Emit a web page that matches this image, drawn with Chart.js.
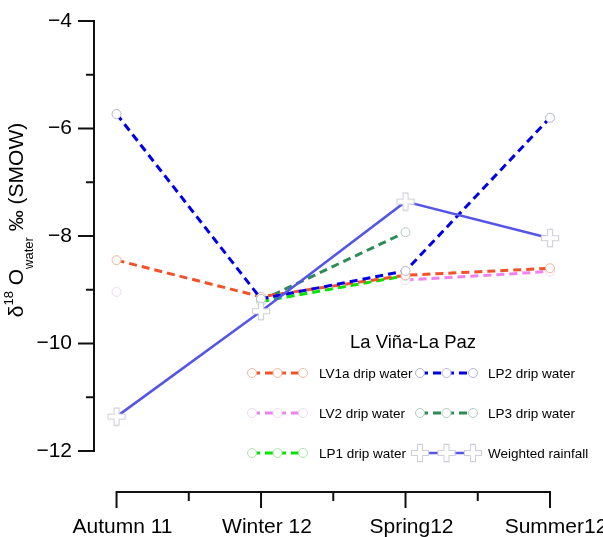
<!DOCTYPE html>
<html>
<head>
<meta charset="utf-8">
<script src="https://cdn.jsdelivr.net/npm/chart.js@4.4.1/dist/chart.umd.min.js"></script>
<style>
  body { margin: 0; background: #fff; }
  #wrap { width: 603px; height: 537px; }
</style>
</head>
<body>
<div id="wrap"><canvas id="chart" width="603" height="537"></canvas></div>
<script>
const categories = ['Autumn 11', 'Winter 12', 'Spring12', 'Summer12'];
const lv1a = [-8.45, -9.13, -8.73, -8.60];
const lv2 = [-9.04, null, -8.82, -8.66];
const lp1 = [null, -9.22, -8.74, null];
const lp2 = [-5.73, -9.17, -8.65, -5.80];
const lp3 = [null, -9.20, -7.93, null];
const rainfall = [-11.36, -9.40, -7.36, -8.04];
const yTicks = [-12, -10, -8, -6, -4];
const yMinorTicks = [-11, -9, -7, -5];
const xMinorTicks = [1.5, 2.5, 3.5];
const legendTitle = 'La Viña-La Paz';
// legend grid, rows of dataset labels
const legendRows = [
  ['LV1a drip water', 'LP2 drip water'],
  ['LV2 drip water', 'LP3 drip water'],
  ['LP1 drip water', 'Weighted rainfall']
];

const FONT = "'Liberation Sans', Arial, Helvetica, sans-serif";

function makeCross(color) {
  const s = 20;
  const c = document.createElement('canvas');
  c.width = s; c.height = s;
  const g = c.getContext('2d');
  const m = s / 2, a = 2.5, l = 8.6;
  g.beginPath();
  g.moveTo(m - a, m - l); g.lineTo(m + a, m - l); g.lineTo(m + a, m - a);
  g.lineTo(m + l, m - a); g.lineTo(m + l, m + a); g.lineTo(m + a, m + a);
  g.lineTo(m + a, m + l); g.lineTo(m - a, m + l); g.lineTo(m - a, m + a);
  g.lineTo(m - l, m + a); g.lineTo(m - l, m - a); g.lineTo(m - a, m - a);
  g.closePath();
  g.fillStyle = '#fff';
  g.fill();
  g.strokeStyle = color;
  g.lineWidth = 1.1;
  g.stroke();
  return c;
}

const crossImg = makeCross('#cfcfdb');

function toPoints(values) {
  return values.map((v, i) => ({ x: i + 1, y: v }));
}

function dripSet(label, values, color, pale, order) {
  return {
    label,
    data: toPoints(values),
    borderColor: color,
    borderWidth: 3,
    borderDash: [8, 5],
    pointStyle: 'circle',
    pointRadius: 4.5,
    pointBorderColor: pale,
    pointBackgroundColor: '#fff',
    pointBorderWidth: 1,
    tension: 0,
    order
  };
}

const datasets = [
  dripSet('LV1a drip water', lv1a, '#f2522a', '#f3b49c', 2),
  dripSet('LV2 drip water', lv2, '#ee82ee', '#eddbed', 5),
  dripSet('LP1 drip water', lp1, '#00e600', '#a6e6a6', 3),
  dripSet('LP2 drip water', lp2, '#0000e6', '#b4b4d2', 1),
  dripSet('LP3 drip water', lp3, '#2e8b57', '#b4c8bc', 4),
  {
    label: 'Weighted rainfall',
    data: toPoints(rainfall),
    borderColor: '#5656e6',
    borderWidth: 2.6,
    pointStyle: crossImg,
    pointRadius: 9,
    tension: 0,
    order: 0
  }
];

function noPadding(scale) {
  scale.paddingTop = 0;
  scale.paddingBottom = 0;
  scale.paddingLeft = 0;
  scale.paddingRight = 0;
}

const axesPlugin = {
  id: 'rAxes',
  afterDraw(chart) {
    const { ctx, scales: { x, y } } = chart;
    const ax = chart.chartArea.left;
    const ay = chart.chartArea.bottom;
    ctx.save();
    ctx.strokeStyle = '#111';
    ctx.lineWidth = 2;
    ctx.lineCap = 'square';
    ctx.beginPath();
    ctx.moveTo(ax, y.getPixelForValue(-4));
    ctx.lineTo(ax, y.getPixelForValue(-12));
    yTicks.forEach(v => { const p = y.getPixelForValue(v); ctx.moveTo(ax, p); ctx.lineTo(ax - 15, p); });
    yMinorTicks.forEach(v => { const p = y.getPixelForValue(v); ctx.moveTo(ax, p); ctx.lineTo(ax - 7, p); });
    ctx.moveTo(x.getPixelForValue(1), ay);
    ctx.lineTo(x.getPixelForValue(4), ay);
    [1, 2, 3, 4].forEach(v => { const p = x.getPixelForValue(v); ctx.moveTo(p, ay); ctx.lineTo(p, ay + 15); });
    xMinorTicks.forEach(v => { const p = x.getPixelForValue(v); ctx.moveTo(p, ay); ctx.lineTo(p, ay + 8); });
    ctx.stroke();
    ctx.restore();
  }
};

const yTitlePlugin = {
  id: 'yTitle',
  afterDraw(chart) {
    const ctx = chart.ctx;
    const parts = [
      { t: 'δ', size: 21, dy: 0 },
      { t: '18', size: 13, dy: -10 },
      { t: ' O', size: 21, dy: 0 },
      { t: 'water', size: 13, dy: 10 },
      { t: ' ‰ (SMOW)', size: 21, dy: 0 }
    ];
    ctx.save();
    let total = 0;
    parts.forEach(p => { ctx.font = `${p.size}px ${FONT}`; p.w = ctx.measureText(p.t).width; total += p.w; });
    ctx.translate(23, 220);
    ctx.rotate(-Math.PI / 2);
    ctx.fillStyle = '#000';
    ctx.textBaseline = 'alphabetic';
    let cx = -total / 2;
    parts.forEach(p => {
      ctx.font = `${p.size}px ${FONT}`;
      ctx.fillText(p.t, cx, p.dy);
      cx += p.w;
    });
    ctx.restore();
  }
};

function drawMarker(ctx, ds, px, py) {
  if (ds.pointStyle instanceof HTMLCanvasElement) {
    ctx.drawImage(ds.pointStyle, px - ds.pointStyle.width / 2, py - ds.pointStyle.height / 2);
    return;
  }
  ctx.save();
  ctx.setLineDash([]);
  ctx.beginPath();
  ctx.arc(px, py, ds.pointRadius, 0, Math.PI * 2);
  ctx.fillStyle = '#fff';
  ctx.fill();
  ctx.lineWidth = ds.pointBorderWidth;
  ctx.strokeStyle = ds.pointBorderColor;
  ctx.stroke();
  ctx.restore();
}

const legendPlugin = {
  id: 'gridLegend',
  afterDraw(chart) {
    const ctx = chart.ctx;
    const rowY = [373, 413, 453];
    const cols = [{ x0: 252, x1: 303, tx: 319 }, { x0: 420, x1: 473, tx: 488 }];
    ctx.save();
    ctx.fillStyle = '#000';
    ctx.font = `18.5px ${FONT}`;
    ctx.textAlign = 'center';
    ctx.textBaseline = 'middle';
    ctx.fillText(legendTitle, 413, 343);
    ctx.textAlign = 'left';
    ctx.font = `13.5px ${FONT}`;
    legendRows.forEach((row, r) => {
      row.forEach((label, c) => {
        const ds = chart.data.datasets.find(d => d.label === label);
        const col = cols[c];
        const yy = rowY[r];
        ctx.save();
        ctx.strokeStyle = ds.borderColor;
        ctx.lineWidth = ds.borderWidth;
        ctx.setLineDash(ds.borderDash || []);
        ctx.beginPath();
        ctx.moveTo(col.x0, yy);
        ctx.lineTo(col.x1, yy);
        ctx.stroke();
        ctx.restore();
        [col.x0, (col.x0 + col.x1) / 2, col.x1].forEach(px => drawMarker(ctx, ds, px, yy));
        ctx.fillStyle = '#000';
        ctx.fillText(label, col.tx, yy + 1);
      });
    });
    ctx.restore();
  }
};

new Chart(document.getElementById('chart'), {
  type: 'line',
  data: { datasets },
  options: {
    responsive: false,
    animation: false,
    layout: { padding: { left: 0, top: 21, right: 41, bottom: 0 } },
    plugins: { legend: { display: false }, tooltip: { enabled: false } },
    elements: { line: { fill: false } },
    scales: {
      x: {
        type: 'linear',
        min: 0.844,
        max: 4.083,
        grid: { display: false, drawTicks: false },
        border: { display: false },
        afterFit: (scale) => { scale.height = 45; noPadding(scale); },
        afterBuildTicks: (scale) => { scale.ticks = [1, 2, 3, 4].map(v => ({ value: v })); },
        ticks: {
          autoSkip: false,
          maxRotation: 0,
          padding: 23,
          labelOffset: 6,
          color: '#000',
          font: { family: FONT, size: 21 },
          callback: (v) => categories[v - 1]
        }
      },
      y: {
        type: 'linear',
        min: -12.763,
        max: -4,
        grid: { display: false, drawTicks: false },
        border: { display: false },
        afterFit: (scale) => { scale.width = 94; noPadding(scale); },
        afterBuildTicks: (scale) => { scale.ticks = yTicks.map(v => ({ value: v })); },
        ticks: {
          padding: 22,
          color: '#000',
          font: { family: FONT, size: 21 },
          callback: (v) => (v < 0 ? '\u2212' : '') + Math.abs(v)
        }
      }
    }
  },
  plugins: [axesPlugin, yTitlePlugin, legendPlugin]
});
</script>
</body>
</html>
